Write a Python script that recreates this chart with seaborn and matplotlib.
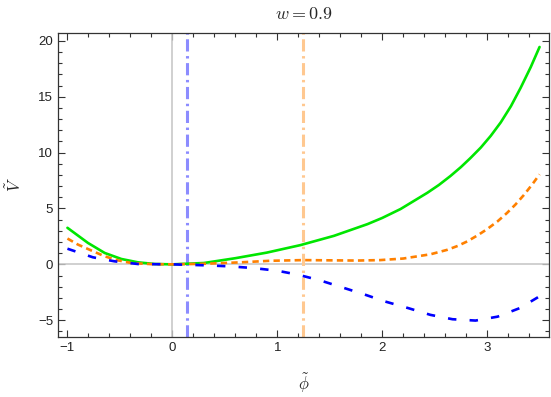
import matplotlib
matplotlib.use("Agg")
import matplotlib.pyplot as plt
import seaborn as sns
import pandas as pd
from matplotlib.ticker import MultipleLocator

# green (solid) curve
phi_green = [-1.0, -0.805, -0.645, -0.486, -0.327, -0.167, 0.0, 0.3, 0.6, 0.9,
             1.22, 1.54, 1.86, 2.0, 2.175, 2.43, 2.54, 2.65, 2.75, 2.84, 2.94,
             3.035, 3.13, 3.227, 3.32, 3.416, 3.5]
v_green = [3.27, 1.92, 1.02, 0.48, 0.18, 0.03, 0.0, 0.12, 0.55, 1.05,
           1.72, 2.55, 3.6, 4.15, 4.95, 6.4, 7.1, 7.9, 8.7, 9.5, 10.45,
           11.5, 12.7, 14.15, 15.8, 17.65, 19.45]

# orange (dashed) curve
phi_orange = [-1.0, -0.9, -0.77, -0.645, -0.52, -0.39, -0.2, 0.0, 0.3, 0.65,
              0.93, 1.25, 1.5, 1.76, 1.98, 2.2, 2.46, 2.62, 2.72, 2.81, 2.91,
              3.0, 3.1, 3.19, 3.27, 3.35, 3.43, 3.5]
v_orange = [2.31, 1.77, 1.23, 0.72, 0.36, 0.12, 0.02, 0.0, 0.05, 0.18,
            0.32, 0.38, 0.36, 0.34, 0.38, 0.52, 0.9, 1.3, 1.65, 2.05, 2.6,
            3.15, 3.85, 4.6, 5.35, 6.2, 7.15, 8.05]

# blue (dashed) curve
phi_blue = [-1.0, -0.757, -0.55, -0.327, 0.0, 0.33, 0.55, 0.77, 1.0, 1.2,
            1.41, 1.82, 2.03, 2.25, 2.46, 2.67, 2.89, 3.1, 3.31, 3.48, 3.5]
v_blue = [1.4, 0.63, 0.27, 0.03, 0.0, -0.09, -0.18, -0.33, -0.57, -0.93,
          -1.44, -2.66, -3.33, -3.92, -4.52, -4.91, -5.03, -4.68, -3.92, -2.97, -2.85]

vline_blue = 0.14
vline_orange = 1.245
title = "$w = 0.9$"

sns.set_style("ticks")
plt.rcParams["font.family"] = ["Liberation Sans", "DejaVu Sans"]
plt.rcParams["mathtext.fontset"] = "cm"

df = pd.concat([
    pd.DataFrame({"phi": phi_green, "V": v_green, "series": "green"}),
    pd.DataFrame({"phi": phi_orange, "V": v_orange, "series": "orange"}),
    pd.DataFrame({"phi": phi_blue, "V": v_blue, "series": "blue"}),
], ignore_index=True)

fig = plt.figure(figsize=(5.51, 3.97), dpi=100)
ax = fig.add_axes([58 / 551, 1 - 337 / 397, (549 - 58) / 551, (337 - 33) / 397])

ax.axhline(0, color="#c8c8c8", lw=1.2, zorder=1)
ax.axvline(0, color="#c8c8c8", lw=1.2, zorder=1)
ax.axvline(vline_blue, color="#8c8cff", lw=2.2, linestyle=(0, (4, 1.5, 0.8, 1.5)), zorder=2)
ax.axvline(vline_orange, color="#ffc890", lw=2.2, linestyle=(0, (4, 1.5, 0.8, 1.5)), zorder=2)

sns.lineplot(data=df, x="phi", y="V", hue="series", style="series",
             palette={"green": "#00e600", "orange": "#ff8000", "blue": "#0000ff"},
             dashes={"green": "", "orange": (2.4, 1.6), "blue": (3.2, 5.0)},
             sort=False, estimator=None,
             lw=1.9, legend=False, ax=ax, zorder=3)

ax.set_xlim(-1.09, 3.59)
ax.set_ylim(-6.5, 20.7)
ax.xaxis.set_major_locator(MultipleLocator(1))
ax.xaxis.set_minor_locator(MultipleLocator(0.2))
ax.yaxis.set_major_locator(MultipleLocator(5))
ax.yaxis.set_minor_locator(MultipleLocator(1))
ax.tick_params(which="both", direction="in", top=True, right=True,
               colors="#333333", labelcolor="#222222", labelsize=9.5, width=0.8)
ax.tick_params(which="major", length=5)
ax.tick_params(which="minor", length=3)
for s in ax.spines.values():
    s.set_color("#333333")
    s.set_linewidth(0.9)

ax.set_xlabel(r"$\tilde{\phi}$", fontsize=12, labelpad=12)
ax.set_ylabel(r"$\tilde{V}$", fontsize=12, labelpad=10)
ax.set_title(title, fontsize=13, pad=10)

fig.savefig("out.png", dpi=100)
